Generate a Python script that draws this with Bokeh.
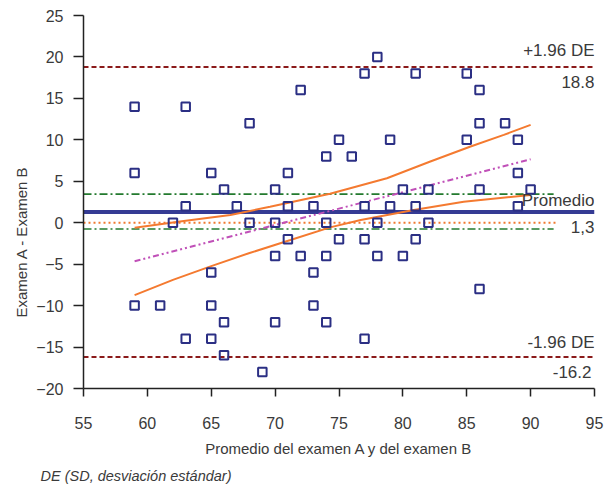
from bokeh.plotting import figure
from bokeh.models import Range1d, FixedTicker, Label, ColumnDataSource, Title
from bokeh.embed import file_html
from bokeh.resources import INLINE

# ---- data ----
x_vals = [59, 59, 59, 61, 62, 63, 63, 63, 65, 65, 65, 65, 66, 66, 66, 67, 68, 68, 69,
          70, 70, 70, 70, 71, 71, 71, 72, 72, 73, 73, 73, 74, 74, 74, 74, 75, 75, 76,
          77, 77, 77, 77, 78, 78, 78, 79, 79, 80, 80, 81, 81, 81, 82, 82, 85, 85,
          86, 86, 86, 86, 88, 89, 89, 89, 90]
y_vals = [14, 6, -10, -10, 0, 14, 2, -14, 6, -6, -10, -14, 4, -12, -16, 2, 12, 0, -18,
          4, 0, -4, -12, 6, 2, -2, 16, -4, 2, -6, -10, 8, 0, -4, -12, 10, -2, 8,
          18, 2, -2, -14, 20, 0, -4, 10, 2, 4, -4, 18, 2, -2, 4, 0, 18, 10,
          16, 12, 4, -8, 12, 10, 6, 2, 4]

mean_diff = 1.3
upper_loa = 18.8
lower_loa = -16.2
mean_ci = [3.45, -0.75]

reg_x = [59, 90]
reg_y = [-4.64, 7.65]

band_up_x = [59, 63, 66.5, 69.6, 74.3, 78.75, 82.15, 85.3, 87.9, 90]
band_up_y = [-0.6, 0.25, 0.93, 1.93, 3.5, 5.37, 7.38, 9.19, 10.6, 11.8]
band_lo_x = [59, 62, 65, 68, 71.2, 74.3, 76.7, 80.85, 84.76, 90]
band_lo_y = [-8.74, -6.9, -5.24, -3.65, -2.09, -0.56, 0.33, 1.54, 2.54, 3.35]

x_ticks = [55, 60, 65, 70, 75, 80, 85, 90, 95]
y_ticks = [-20, -15, -10, -5, 0, 5, 10, 15, 20, 25]

x_title = "Promedio del examen A y del examen B"
y_title = "Examen A - Examen B"
footnote = "DE (SD, desviación estándar)"
upper_texts = ["+1.96 DE", "18.8"]
mean_texts = ["Promedio", "1,3"]
lower_texts = ["-1.96 DE", "-16.2"]

FONT = "Liberation Sans"
TXT = "#3a3a3a"

p = figure(width=604, height=491, output_backend="svg", toolbar_location=None,
           x_range=Range1d(55, 95), y_range=Range1d(-20, 25),
           min_border_left=83, min_border_right=10, min_border_top=15, min_border_bottom=103)
p.outline_line_color = None
p.xgrid.visible = False
p.ygrid.visible = False
p.background_fill_color = "white"

for ax in (p.xaxis, p.yaxis):
    ax.axis_line_color = "#222222"
    ax.axis_line_width = 1.5
    ax.major_tick_line_color = "#222222"
    ax.major_tick_line_width = 1.5
    ax.minor_tick_line_color = None
    ax.major_tick_in = 0
    ax.major_label_text_font = FONT
    ax.major_label_text_font_size = "16px"
    ax.major_label_text_color = TXT
p.xaxis.ticker = FixedTicker(ticks=x_ticks)
p.yaxis.ticker = FixedTicker(ticks=y_ticks)
p.xaxis.major_tick_out = 8
p.yaxis.major_tick_out = 10
p.xaxis.major_label_standoff = 20
p.yaxis.major_label_standoff = 10

p.xaxis.axis_label = x_title
p.xaxis.axis_label_text_font = FONT
p.xaxis.axis_label_text_font_size = "15px"
p.xaxis.axis_label_text_font_style = "normal"
p.xaxis.axis_label_text_color = TXT
p.xaxis.axis_label_standoff = 8

# y title as a side title so it can sit lower than the frame centre
p.add_layout(Title(text=y_title, align="left", offset=71, standoff=8,
                   text_font=FONT, text_font_size="15px", text_font_style="normal",
                   text_color=TXT), "left")
# footnote
p.add_layout(Title(text=footnote, align="left", offset=-43, standoff=13,
                   text_font=FONT, text_font_size="14.5px", text_font_style="italic",
                   text_color=TXT), "below")

# horizontal reference lines
p.line([55, 95], [upper_loa, upper_loa], line_color="#8b1a1a", line_width=2, line_dash="5 3")
p.line([55, 95], [lower_loa, lower_loa], line_color="#8b1a1a", line_width=2, line_dash="5 3")
for v in mean_ci:
    p.line([55, 91.8], [v, v], line_color="#237a2e", line_width=1.6, line_dash="8 3 2 3")
p.line([55, 92], [0, 0], line_color="#f07a30", line_width=2, line_dash="2 3")
p.line([55, 95], [mean_diff, mean_diff], line_color="#353b94", line_width=4)

# regression and bands
p.line(reg_x, reg_y, line_color="#c050b8", line_width=2, line_dash="6 3 2 3 2 3")
p.line(band_up_x, band_up_y, line_color="#f47a30", line_width=2)
p.line(band_lo_x, band_lo_y, line_color="#f47a30", line_width=2)

# points
src = ColumnDataSource(dict(x=x_vals, y=y_vals))
p.scatter("x", "y", source=src, marker="square", size=8.5, fill_color=None,
          line_color="#2b2f84", line_width=2)

def lab(text, x, y, xo, yo, size="17px"):
    p.add_layout(Label(x=x, y=y, x_offset=xo, y_offset=yo, text=text,
                       text_font=FONT, text_font_size=size, text_color=TXT,
                       text_align="right", text_baseline="alphabetic"))

lab(upper_texts[0], 95, upper_loa, 0, 16)
lab(upper_texts[1], 95, upper_loa, 0, -15)
lab(mean_texts[0], 95, mean_diff, 0, 11)
lab(mean_texts[1], 95, mean_diff, 0, -15)
lab(lower_texts[0], 95, lower_loa, 0, 15)
lab(lower_texts[1], 95, lower_loa, -3, -15)

open("out.html", "w").write(file_html(p, INLINE))
